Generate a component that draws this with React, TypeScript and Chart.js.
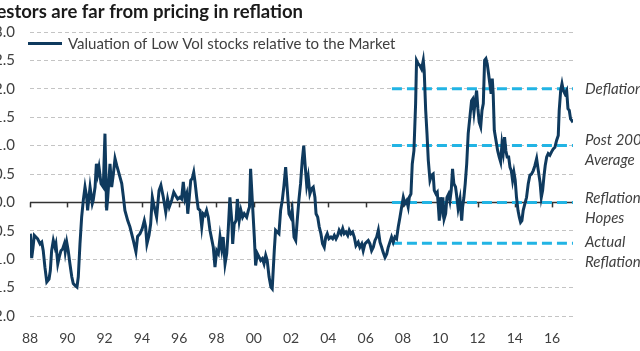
import React, { useEffect, useRef } from "react";
import { Chart, registerables } from "chart.js";

Chart.register(...registerables);

// ---------- data ----------
const titleText = "Investors are far from pricing in reflation";
const legendText = "Valuation of Low Vol stocks relative to the Market";

const dates = [
  1988.02, 1988.09, 1988.16, 1988.23, 1988.41, 1988.54, 1988.63, 1988.71, 1988.8, 1988.9,
  1989.02, 1989.09, 1989.16, 1989.25, 1989.34, 1989.39, 1989.49, 1989.57, 1989.66, 1989.75,
  1989.84, 1989.89, 1989.97, 1990.05, 1990.14, 1990.24, 1990.32, 1990.41, 1990.52, 1990.59,
  1990.68, 1990.77, 1990.86, 1990.95, 1991.04, 1991.09, 1991.16, 1991.22, 1991.34, 1991.39,
  1991.49, 1991.56, 1991.63, 1991.7, 1991.81, 1991.93, 1992.02, 1992.11, 1992.17, 1992.29,
  1992.38, 1992.47, 1992.56, 1992.65, 1992.73, 1992.92, 1993.0, 1993.09, 1993.24, 1993.36,
  1993.45, 1993.54, 1993.68, 1993.77, 1993.9, 1994.02, 1994.13, 1994.2, 1994.27, 1994.38,
  1994.47, 1994.56, 1994.66, 1994.79, 1994.92, 1995.02, 1995.15, 1995.28, 1995.38, 1995.47,
  1995.6, 1995.71, 1995.81, 1995.92, 1996.04, 1996.13, 1996.22, 1996.31, 1996.4, 1996.46,
  1996.53, 1996.62, 1996.7, 1996.78, 1996.85, 1996.94, 1997.02, 1997.12, 1997.21, 1997.29,
  1997.38, 1997.47, 1997.56, 1997.65, 1997.74, 1997.83, 1997.92, 1998.01, 1998.1, 1998.19,
  1998.28, 1998.36, 1998.46, 1998.55, 1998.63, 1998.72, 1998.82, 1998.87, 1998.95, 1999.05,
  1999.12, 1999.22, 1999.31, 1999.4, 1999.49, 1999.62, 1999.71, 1999.77, 1999.83, 1999.92,
  2000.03, 2000.1, 2000.19, 2000.28, 2000.37, 2000.46, 2000.55, 2000.64, 2000.72, 2000.82,
  2000.92, 2000.99, 2001.1, 2001.17, 2001.26, 2001.35, 2001.44, 2001.53, 2001.62, 2001.71,
  2001.8, 2001.89, 2001.98, 2002.06, 2002.16, 2002.25, 2002.33, 2002.42, 2002.51, 2002.6,
  2002.68, 2002.75, 2002.84, 2002.92, 2003.01, 2003.1, 2003.19, 2003.28, 2003.34, 2003.43,
  2003.51, 2003.6, 2003.69, 2003.78, 2003.86, 2003.94, 2004.03, 2004.14, 2004.23, 2004.32,
  2004.41, 2004.5, 2004.58, 2004.68, 2004.77, 2004.85, 2004.94, 2005.04, 2005.12, 2005.21,
  2005.3, 2005.39, 2005.48, 2005.6, 2005.69, 2005.79, 2005.87, 2005.96, 2006.05, 2006.14,
  2006.23, 2006.32, 2006.41, 2006.5, 2006.59, 2006.68, 2006.77, 2006.86, 2006.94, 2007.04,
  2007.13, 2007.21, 2007.3, 2007.39, 2007.48, 2007.57, 2007.66, 2007.75, 2007.84, 2007.93,
  2008.02, 2008.11, 2008.2, 2008.28, 2008.34, 2008.43, 2008.5, 2008.59, 2008.68, 2008.73,
  2008.82, 2008.91, 2009.0, 2009.09, 2009.14, 2009.22, 2009.29, 2009.36, 2009.45, 2009.54,
  2009.62, 2009.68, 2009.77, 2009.84, 2009.89, 2009.95, 2010.02, 2010.09, 2010.14, 2010.21,
  2010.29, 2010.36, 2010.45, 2010.52, 2010.59, 2010.66, 2010.73, 2010.82, 2010.87, 2010.96,
  2011.06, 2011.15, 2011.2, 2011.27, 2011.34, 2011.42, 2011.5, 2011.59, 2011.68, 2011.74,
  2011.81, 2011.88, 2011.95, 2012.02, 2012.09, 2012.17, 2012.24, 2012.31, 2012.38, 2012.45,
  2012.52, 2012.59, 2012.66, 2012.73, 2012.79, 2012.84, 2012.9, 2012.99, 2013.08, 2013.16,
  2013.24, 2013.31, 2013.38, 2013.45, 2013.52, 2013.59, 2013.67, 2013.74, 2013.81, 2013.88,
  2013.95, 2014.02, 2014.09, 2014.17, 2014.24, 2014.31, 2014.38, 2014.45, 2014.54, 2014.63,
  2014.72, 2014.81, 2014.9, 2014.99, 2015.08, 2015.17, 2015.26, 2015.35, 2015.42, 2015.49,
  2015.56, 2015.63, 2015.71, 2015.79, 2015.88, 2015.97, 2016.06, 2016.15, 2016.24, 2016.33,
  2016.38, 2016.46, 2016.53, 2016.6, 2016.69, 2016.78, 2016.85, 2016.92, 2016.99, 2017.06, 2017.12,
];

const valuation = [
  -0.55, -0.98, -0.8, -0.58, -0.64, -0.73, -0.7, -0.85, -1.14, -1.4,
  -1.35, -1.2, -0.85, -0.67, -0.79, -0.73, -1.08, -0.96, -0.85, -0.82,
  -0.73, -0.87, -0.7, -0.85, -1.08, -1.31, -1.43, -1.46, -1.49, -1.31,
  -0.73, -0.26, 0.04, 0.27, 0.09, -0.14, 0.09, 0.27, -0.02, 0.04,
  0.27, 0.68, 0.5, 0.62, 0.33, 0.27, 1.21, -0.14, 0.09, 0.68,
  0.27, 0.5, 0.77, 0.65, 0.56, 0.33, 0.12, -0.14, -0.32, -0.43,
  -0.55, -0.67, -0.87, -0.6, -0.55, -0.46, -0.32, -0.43, -0.73, -0.58,
  -0.38, 0.09, -0.08, -0.26, 0.21, 0.3, 0.09, -0.17, 0.06, -0.08,
  0.04, 0.18, 0.12, 0.06, 0.09, 0.06, 0.36, 0.06, 0.15, -0.2,
  0.04, 0.39, 0.42, 0.53, 0.36, 0.09, -0.11, -0.14, -0.43, -0.2,
  -0.23, -0.14, -0.26, -0.49, -0.64, -0.79, -1.14, -0.85, -0.9, -0.61,
  -0.82, -0.61, -1.08, -0.9, -0.49, 0.09, -0.32, -0.73, -0.38, -0.32,
  0.06, -0.32, -0.14, -0.26, -0.2, -0.26, -0.14, -0.08, 0.59, 0.04,
  -0.61, -1.11, -0.9, -0.96, -1.02, -0.99, -1.08, -0.93, -1.02, -1.31,
  -1.49, -1.52, -0.85, -0.49, -0.52, -0.55, -0.14, 0.04, 0.3, 0.62,
  0.21, -0.2, -0.26, -0.14, -0.61, -0.67, -0.32, 0.04, 0.33, 0.74,
  1.0, 0.68, 0.3, 0.45, 0.15, 0.24, 0.27, 0.09, -0.2, -0.26,
  -0.43, -0.55, -0.73, -0.79, -0.61, -0.55, -0.64, -0.61, -0.64, -0.58,
  -0.64, -0.58, -0.49, -0.55, -0.46, -0.55, -0.52, -0.58, -0.49, -0.55,
  -0.52, -0.61, -0.76, -0.7, -0.79, -0.73, -0.85, -0.73, -0.7, -0.67,
  -0.73, -0.85, -0.79, -0.67, -0.61, -0.49, -0.7, -0.79, -0.88, -0.97,
  -0.91, -0.79, -0.7, -0.61, -0.7, -0.61, -0.64, -0.43, -0.26, -0.08,
  0.09, -0.02, 0.03, -0.08, 0.09, 0.15, 0.68, 0.91, 1.74, 2.5,
  2.44, 2.41, 2.35, 2.5, 2.32, 1.62, 1.21, 0.74, 0.39, 0.48,
  0.5, 0.21, 0.15, 0.18, -0.02, -0.32, 0.09, -0.08, 0.09, -0.29,
  -0.2, 0.09, 0.15, 0.03, 0.21, 0.59, 0.33, 0.27, 0.15, -0.11,
  0.06, -0.32, -0.08, 0.09, 0.33, 0.68, 1.21, 1.5, 1.79, 1.82,
  1.59, 1.79, 1.97, 1.65, 1.41, 1.33, 1.62, 1.74, 2.5, 2.53,
  2.44, 2.27, 2.09, 1.91, 2.18, 1.91, 1.27, 1.09, 0.91, 0.8,
  0.71, 1.03, 0.88, 1.15, 0.91, 0.8, 0.8, 0.62, 0.56, 0.39,
  0.53, 0.39, 0.09, -0.14, -0.26, -0.35, -0.32, -0.14, -0.02, 0.09,
  0.33, 0.48, 0.5, 0.56, 0.65, 0.77, 0.56, 0.36, 0.09, 0.21,
  0.45, 0.65, 0.8, 0.86, 0.83, 0.89, 0.94, 0.97, 1.09, 1.18,
  1.62, 1.97, 2.09, 1.97, 1.91, 1.97, 1.65, 1.62, 1.47, 1.44, 1.41,
];

const levelValues = [2.0, 1.0, 0.0, -0.72];
const levelLabels = [["Deflation"], ["Post 2008", "Average"], ["Reflation", "Hopes"], ["Actual", "Reflation"]];
const levelStart = 2007.41;
const axisStart = 1988;
const axisEnd = 2017.12;
const xTickYears = [1988, 1990, 1992, 1994, 1996, 1998, 2000, 2002, 2004, 2006, 2008, 2010, 2012, 2014, 2016];
const yTickValues = [-2, -1.5, -1, -0.5, 0, 0.5, 1, 1.5, 2, 2.5, 3];

// ---------- styling ----------
const NAVY = "#0f3a5e";
const CYAN = "#22b4e4";
const TEXT = "#404040";
const FONT = "Lato";
const OFFSET_X = 24; // canvas starts this many px left of the page
const CANVAS_W = 724;
const CANVAS_H = 351;
const labelOffsets = [0, -5, -4, -1];

const overlayPlugin = {
  id: "overlay",
  beforeDatasetsDraw(chart: any) {
    const { ctx, scales } = chart;
    const x = scales.x;
    const y = scales.y;
    const y0 = y.getPixelForValue(0);
    ctx.save();
    ctx.strokeStyle = "#333333";
    ctx.lineWidth = 1.5;
    xTickYears.forEach((yr) => {
      const px = Math.round(x.getPixelForValue(yr)) + 0.5;
      ctx.beginPath();
      ctx.moveTo(px, y0);
      ctx.lineTo(px, y0 + 5);
      ctx.stroke();
    });
    ctx.restore();
  },
  afterDraw(chart: any) {
    const { ctx, scales } = chart;
    const y = scales.y;
    ctx.save();
    // title (right edge fixed, start clipped by page)
    ctx.font = `bold 18.5px ${FONT}`;
    ctx.fillStyle = "#1a1a1a";
    ctx.textAlign = "right";
    ctx.textBaseline = "alphabetic";
    ctx.fillText(titleText, 303 + OFFSET_X, 18);

    // legend
    ctx.strokeStyle = NAVY;
    ctx.lineWidth = 3;
    ctx.beginPath();
    ctx.moveTo(28 + OFFSET_X, 43.5);
    ctx.lineTo(62 + OFFSET_X, 43.5);
    ctx.stroke();
    ctx.font = `15px ${FONT}`;
    ctx.fillStyle = TEXT;
    ctx.textAlign = "left";
    ctx.textBaseline = "middle";
    ctx.fillText(legendText, 68 + OFFSET_X, 44);

    // right-hand level labels
    ctx.font = `italic 15px ${FONT}`;
    levelValues.forEach((lv, i) => {
      const base = y.getPixelForValue(lv) + labelOffsets[i];
      levelLabels[i].forEach((line, j) => {
        ctx.fillText(line, 585 + OFFSET_X, base + j * 19.5);
      });
    });
    ctx.restore();
  },
};

export default function App() {
  const canvasRef = useRef<HTMLCanvasElement | null>(null);

  useEffect(() => {
    const canvas = canvasRef.current;
    if (!canvas) return;

    const levelSets = levelValues.map((lv) => ({
      label: `level ${lv}`,
      data: [
        { x: levelStart, y: lv },
        { x: axisEnd, y: lv },
      ],
      borderColor: CYAN,
      borderWidth: 3,
      borderDash: [10, 5],
      pointRadius: 0,
      fill: false,
    }));

    const chart = new Chart(canvas, {
      type: "line",
      data: {
        datasets: [
          {
            label: legendText,
            data: dates.map((d, i) => ({ x: d, y: valuation[i] })),
            borderColor: NAVY,
            borderWidth: 3,
            pointRadius: 0,
            tension: 0,
            fill: false,
          },
          ...levelSets,
          {
            label: "zero",
            data: [
              { x: axisStart, y: 0 },
              { x: axisEnd, y: 0 },
            ],
            borderColor: "#333333",
            borderWidth: 1.5,
            pointRadius: 0,
            fill: false,
          },
        ],
      },
      options: {
        animation: false,
        responsive: false,
        maintainAspectRatio: false,
        devicePixelRatio: 1,
        layout: { padding: { top: 32, right: CANVAS_W - (573 + OFFSET_X), bottom: 0, left: 0 } },
        plugins: {
          legend: { display: false },
          title: { display: false },
          tooltip: { enabled: false },
        },
        scales: {
          x: {
            type: "linear",
            min: axisStart,
            max: axisEnd,
            afterBuildTicks: (s: any) => {
              s.ticks = xTickYears.map((v) => ({ value: v }));
            },
            afterFit: (s: any) => {
              s.height = CANVAS_H - 316;
            },
            grid: { display: false, drawTicks: false },
            border: { display: false },
            ticks: {
              autoSkip: false,
              maxRotation: 0,
              padding: 14,
              color: TEXT,
              font: { family: FONT, size: 14 },
              callback: (v: any) => String(v).slice(2),
            },
          },
          y: {
            type: "linear",
            min: -2,
            max: 3,
            afterBuildTicks: (s: any) => {
              s.ticks = yTickValues.map((v) => ({ value: v }));
            },
            afterFit: (s: any) => {
              s.width = 30 + OFFSET_X;
            },
            grid: {
              drawTicks: false,
              color: (c: any) => (c.tick && c.tick.value === 0 ? "rgba(0,0,0,0)" : "#c4c4c4"),
              lineWidth: 1,
            },
            border: { display: false, dash: [4, 3] },
            ticks: {
              padding: 15,
              color: TEXT,
              font: { family: FONT, size: 15 },
              callback: (v: any) => Number(v).toFixed(1),
            },
          },
        },
      },
      plugins: [overlayPlugin],
    } as any);

    return () => chart.destroy();
  }, []);

  return (
    <div
      style={{
        position: "fixed",
        left: 0,
        top: 0,
        width: 640,
        height: 351,
        overflow: "hidden",
        background: "#ffffff",
      }}
    >
      <div style={{ position: "absolute", left: -OFFSET_X, top: 0, width: CANVAS_W, height: CANVAS_H }}>
        <canvas ref={canvasRef} width={CANVAS_W} height={CANVAS_H} style={{ width: CANVAS_W, height: CANVAS_H, display: "block" }} />
      </div>
    </div>
  );
}
